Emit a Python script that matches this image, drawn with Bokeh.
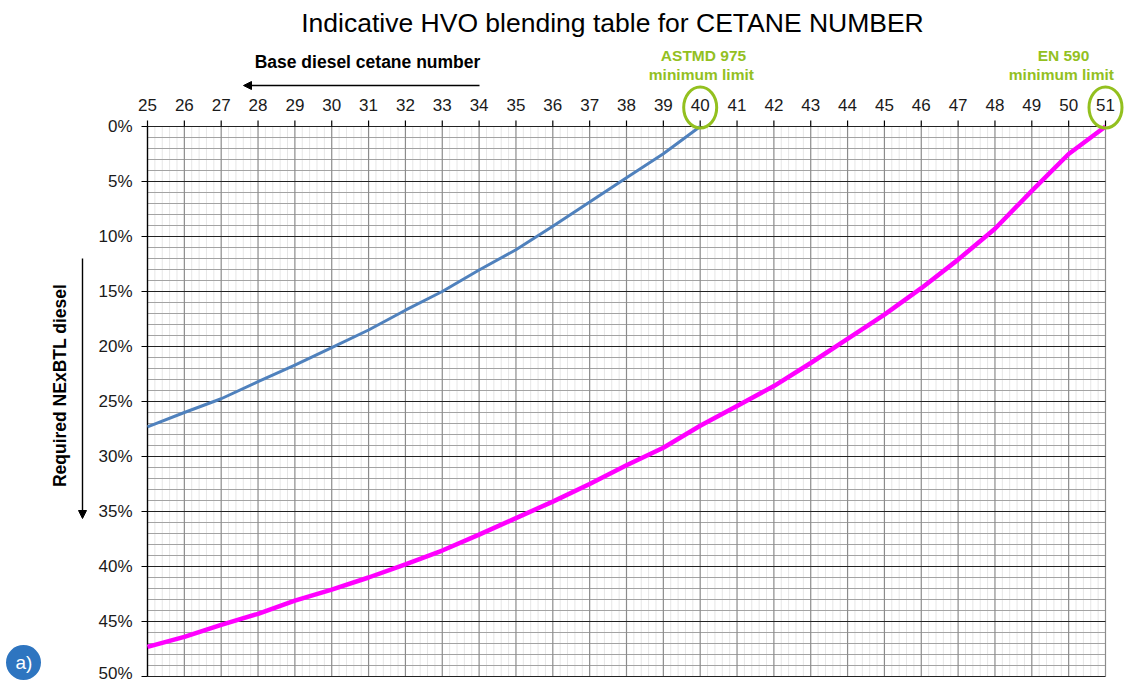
import numpy as np
from bokeh.plotting import figure
from bokeh.models import Range1d, Label, Arrow, NormalHead, ColumnDataSource
from bokeh.core.properties import value
from bokeh.embed import file_html
from bokeh.resources import INLINE

# ---------------- data ----------------
cetane_ticks = list(range(25, 52))
cetane_labels = [str(v) for v in cetane_ticks]
pct_ticks = list(range(0, 51, 5))
pct_labels = [f"{v}%" for v in pct_ticks]

astm_x = list(range(25, 41))
astm_y = [27.3, 26.0, 24.75, 23.2, 21.7, 20.1, 18.5, 16.7, 15.0, 13.05,
          11.2, 9.06, 6.86, 4.65, 2.48, 0.0]

en_x = list(range(25, 52))
en_y = [47.3, 46.4, 45.3, 44.3, 43.1, 42.1, 41.0, 39.8, 38.55, 37.1,
        35.6, 34.1, 32.5, 30.8, 29.2, 27.2, 25.4, 23.6, 21.5, 19.3,
        17.1, 14.7, 12.1, 9.3, 5.85, 2.5, 0.0]

limit_x = [40, 51]
limit_name = ["ASTMD 975", "EN 590"]

title_text = "Indicative HVO blending table for CETANE NUMBER"
x_title = "Base diesel cetane number"
y_title = "Required NExBTL diesel"

GREEN = "#93C01F"
FONT = "Liberation Sans"

# ------------- layout geometry (pixels) -------------
W, H = 1131, 684
PX_L, PX_R = 147, 1105     # x = 25 .. 51
PY_T, PY_B = 126, 676      # y = 0% .. 50%
XMIN, XMAX = cetane_ticks[0], cetane_ticks[-1]
YMIN, YMAX = pct_ticks[0], pct_ticks[-1]
SX = (PX_R - PX_L) / (XMAX - XMIN)
SY = (PY_B - PY_T) / (YMAX - YMIN)


def dx(px):
    return XMIN + (px - PX_L) / SX


def dy(py):
    return YMIN + (py - PY_T) / SY


p = figure(width=W, height=H,
           x_range=Range1d(dx(0), dx(W)), y_range=Range1d(dy(H), dy(0)),
           x_axis_type=None, y_axis_type=None,
           output_backend="svg", toolbar_location=None, min_border=0)
p.title.visible = False
p.outline_line_color = None
p.background_fill_color = "white"
p.border_fill_color = "white"

# ------------- grid -------------
minor_x = [v for v in np.round(np.arange(XMIN, XMAX + 1e-9, 0.2), 3)
           if abs(v - round(v)) > 1e-6]
minor_y = [v for v in range(YMIN, YMAX + 1) if v % 5 != 0]

p.segment(x0=minor_x, y0=YMIN, x1=minor_x, y1=YMAX,
          line_color="#e6e6e6", line_width=1)
p.segment(x0=XMIN, y0=minor_y, x1=XMAX, y1=minor_y,
          line_color="#a3a3a3", line_width=1.1)
p.segment(x0=cetane_ticks[1:], y0=YMIN, x1=cetane_ticks[1:], y1=YMAX,
          line_color="#8c8c8c", line_width=1.2)
p.segment(x0=XMIN, y0=pct_ticks, x1=XMAX, y1=pct_ticks,
          line_color="#222222", line_width=1.2)
# axis line
p.segment(x0=[XMIN], y0=[YMIN], x1=[XMIN], y1=[YMAX],
          line_color="black", line_width=1.4)

# ticks
p.segment(x0=cetane_ticks, y0=YMIN, x1=cetane_ticks, y1=dy(PY_T - 6),
          line_color="black", line_width=1.2)
p.segment(x0=XMIN, y0=pct_ticks, x1=dx(PX_L - 6), y1=pct_ticks,
          line_color="black", line_width=1.2)

# tick labels (last y label kept inside the page)
pct_label_y = [min(v, dy(H - 11)) for v in pct_ticks]
p.text(x=cetane_ticks, y=dy(104), text=cetane_labels,
       text_font=value(FONT), text_font_size=value("17px"),
       text_color="#1a1a1a", text_align="center", text_baseline="middle")
p.text(x=dx(132), y=pct_label_y, text=pct_labels,
       text_font=value(FONT), text_font_size=value("17px"),
       text_color="#1a1a1a", text_align="right", text_baseline="middle")

# ------------- curves -------------
p.line(astm_x, astm_y, line_color="#4F81BD", line_width=3)
p.line(en_x, en_y, line_color="#FF00FF", line_width=4.5)

# ------------- annotations -------------
p.add_layout(Label(x=dx(612), y=dy(22), text=title_text, text_font=FONT,
                   text_font_size="26.5px", text_color="black",
                   text_align="center", text_baseline="middle"))

p.add_layout(Label(x=dx(367), y=dy(61), text=x_title, text_font=FONT,
                   text_font_size="17.5px", text_font_style="bold",
                   text_color="black", text_align="center",
                   text_baseline="middle"))
p.add_layout(Arrow(end=NormalHead(size=8, fill_color="black",
                                  line_color="black", line_width=1),
                   x_start=dx(479), y_start=dy(85), x_end=dx(243), y_end=dy(85),
                   line_color="black", line_width=1.4))

p.add_layout(Label(x=dx(59), y=dy(385), text=y_title, text_font=FONT,
                   text_font_size="17.5px", text_font_style="bold",
                   text_color="black", text_align="center",
                   text_baseline="middle", angle=np.pi / 2))
p.add_layout(Arrow(end=NormalHead(size=8, fill_color="black",
                                  line_color="black", line_width=1),
                   x_start=dx(82), y_start=dy(258), x_end=dx(82), y_end=dy(518),
                   line_color="black", line_width=1.4))

# limit labels and circles
lim_src = ColumnDataSource(dict(x=limit_x))
lab_x = [dx(703), dx(1063)]
p.text(x=lab_x, y=dy(55), text=limit_name, text_font=value(FONT),
       text_font_size=value("15.5px"), text_font_style="bold",
       text_color=GREEN, text_align="center", text_baseline="middle")
p.text(x=lab_x, y=dy(74), text=["minimum  limit"] * len(limit_x),
       text_font=value(FONT), text_font_size=value("15.5px"),
       text_font_style="bold", text_color=GREEN, text_align="center",
       text_baseline="middle")
p.ellipse(x="x", y=dy(107), width=33 / SX, height=41 / SY, source=lim_src,
          fill_color=None, line_color=GREEN, line_width=3)

# "a)" badge
p.scatter(x=[dx(23)], y=[dy(662)], size=35, marker="circle",
          fill_color="#2E75C0", line_color=None)
p.text(x=[dx(23.5)], y=[dy(662)], text=["a)"], text_font=value(FONT),
       text_font_size=value("19px"), text_color="white",
       text_align="center", text_baseline="middle")

open("out.html", "w").write(file_html(p, INLINE))
